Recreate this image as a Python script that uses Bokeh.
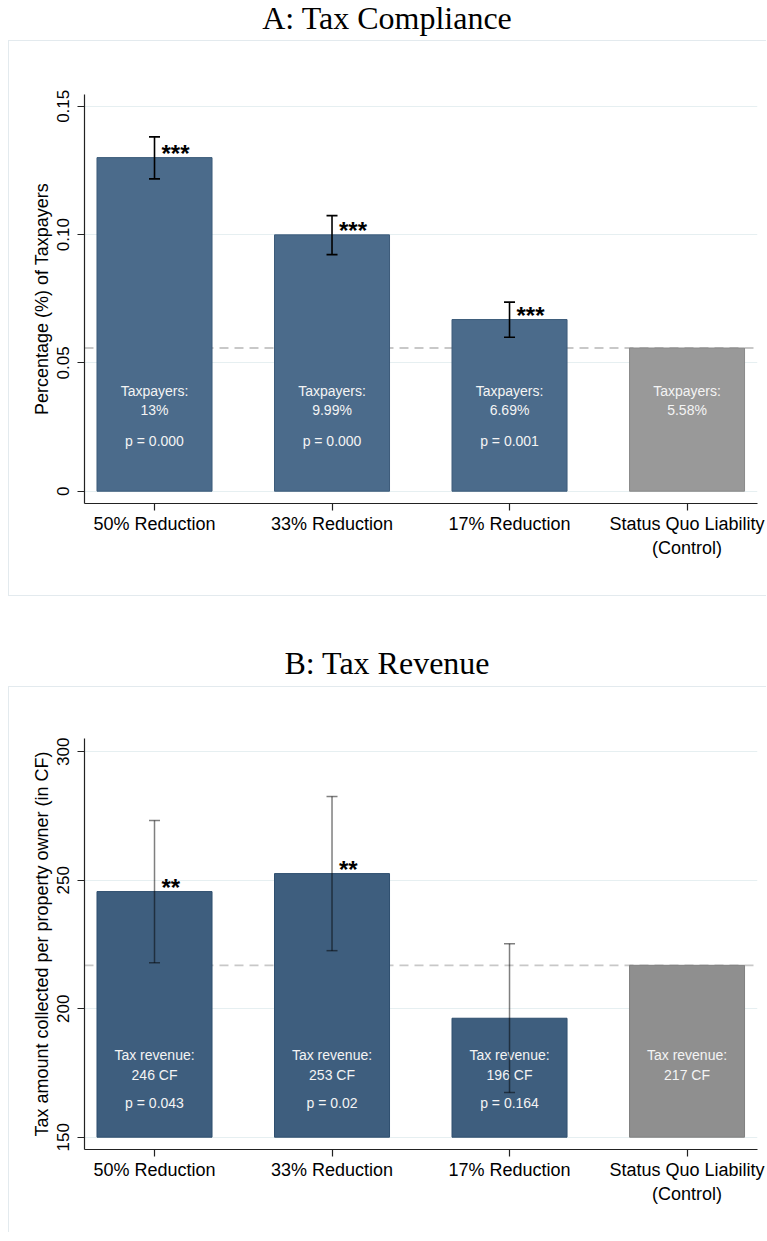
from bokeh.plotting import figure
from bokeh.models import (Range1d, FixedTicker, Span, Whisker, TeeHead, ColumnDataSource, Div)
from bokeh.layouts import column
from bokeh.core.properties import value
from bokeh.embed import file_html
from bokeh.resources import INLINE

# ---------------- data ----------------
categories = ["50% Reduction", "33% Reduction", "17% Reduction", "Status Quo Liability\n(Control)"]
cat_pos = [0, 1, 2, 3]

compliance = [0.1300, 0.0999, 0.0669, 0.0558]
comp_lo = [0.1217, 0.0922, 0.0600]
comp_hi = [0.1381, 0.1074, 0.0737]
comp_stars = ["***", "***", "***", ""]
comp_value_lbl = ["13%", "9.99%", "6.69%", "5.58%"]
comp_p_lbl = ["p = 0.000", "p = 0.000", "p = 0.001", ""]

revenue = [245.6, 252.6, 196.3, 216.9]
rev_lo = [217.9, 222.6, 167.4]
rev_hi = [273.3, 282.6, 225.3]
rev_stars = ["**", "**", "", ""]
rev_value_lbl = ["246 CF", "253 CF", "196 CF", "217 CF"]
rev_p_lbl = ["p = 0.043", "p = 0.02", "p = 0.164", ""]

yticks_a = [0, 0.05, 0.10, 0.15]
ytick_lbl_a = ["0", "0.05", "0.10", "0.15"]
yticks_b = [150, 200, 250, 300]
ytick_lbl_b = ["150", "200", "250", "300"]

SANS = "Liberation Sans"
SERIF = "Liberation Serif"
GRID = "#e6eff1"
BOX = "1px solid #e3eaee"


def make_panel(vals, lo, hi, stars, val_lbl, p_lbl, head, ylabel, yr, yticks, ytick_lbl,
               base, blue, blue_line, gray, gray_line, err_color, err_alpha, err_width,
               text_y, height, min_top, min_bottom, border_bottom):
    p = figure(width=758, height=height, output_backend="svg", toolbar_location=None,
               x_range=Range1d(-0.3944, 3.397), y_range=Range1d(*yr),
               min_border_left=75, min_border_right=10, min_border_top=min_top,
               min_border_bottom=min_bottom)
    p.styles = {"border-top": BOX, "border-left": BOX,
                "border-bottom": BOX if border_bottom else "none"}
    p.outline_line_color = None
    p.background_fill_color = "white"
    p.border_fill_color = "white"

    # grid
    p.xgrid.grid_line_color = None
    p.ygrid.grid_line_color = GRID
    p.ygrid.grid_line_width = 1.2
    p.ygrid.ticker = FixedTicker(ticks=yticks)

    # axes
    for ax in (p.xaxis[0], p.yaxis[0]):
        ax.axis_line_color = "#222222"
        ax.axis_line_width = 1.2
        ax.major_tick_line_color = "#222222"
        ax.major_tick_line_width = 1.2
        ax.major_tick_out = 7
        ax.major_tick_in = 0
        ax.minor_tick_line_color = None
        ax.major_label_text_color = "black"
        ax.major_label_text_font = SANS
    p.xaxis.ticker = FixedTicker(ticks=cat_pos)
    p.xaxis.major_label_overrides = {c: l for c, l in zip(cat_pos, categories)}
    p.xaxis.major_label_text_font_size = "18px"
    p.xaxis.major_label_standoff = 3
    p.yaxis.ticker = FixedTicker(ticks=yticks)
    p.yaxis.major_label_overrides = {t: l for t, l in zip(yticks, ytick_lbl)}
    p.yaxis.major_label_text_font_size = "17px"
    p.yaxis.major_label_orientation = "vertical"
    p.yaxis.major_label_standoff = 8
    p.yaxis.axis_label = ylabel
    p.yaxis.axis_label_text_font = SANS
    p.yaxis.axis_label_text_font_size = "18px"
    p.yaxis.axis_label_text_font_style = "normal"
    p.yaxis.axis_label_text_color = "black"
    p.yaxis.axis_label_standoff = 3

    # reference line at control level (behind the bars)
    p.add_layout(Span(location=vals[3], dimension="width", line_color="#c8c8c8",
                      line_width=1.8, line_dash="9 6", level="underlay"))

    # bars
    colors = [blue, blue, blue, gray]
    lcolors = [blue_line, blue_line, blue_line, gray_line]
    src = ColumnDataSource(dict(x=cat_pos, top=vals, c=colors, lc=lcolors,
                                stars=stars, vl=val_lbl, pl=p_lbl,
                                head=[head] * 4))
    p.vbar(x="x", top="top", bottom=base, width=0.648, fill_color="c",
           line_color="lc", line_width=1, source=src)

    # in-bar labels
    for yy, col in zip(text_y, ("head", "vl", "pl")):
        p.text(x="x", y=yy, text=col, source=src, text_align="center",
               text_baseline="middle", text_font=value(SANS), text_font_size="14px",
               text_color="#f4f4f4")

    # error bars (drawn over the bars)
    esrc = ColumnDataSource(dict(x=cat_pos[:3], lo=lo, hi=hi))
    w = Whisker(base="x", lower="lo", upper="hi", source=esrc, level="overlay",
                line_color=err_color, line_alpha=err_alpha, line_width=err_width,
                lower_head=TeeHead(size=11, line_color=err_color, line_alpha=err_alpha, line_width=err_width),
                upper_head=TeeHead(size=11, line_color=err_color, line_alpha=err_alpha, line_width=err_width))
    p.add_layout(w)

    # stars
    p.text(x="x", y="top", text="stars", source=src, text_align="left",
           text_baseline="alphabetic", x_offset=7, y_offset=-4,
           text_font=value(SANS), text_font_size="24px", text_font_style="bold",
           text_color="black")
    return p


def title_div(text, height, pad_top):
    return Div(text=f'<div style="width:742px; font-family:{SERIF}; font-size:32px; line-height:20px; '
                    f'text-align:center; padding-left:16px; padding-top:{pad_top}px; color:black;">{text}</div>',
               width=758, height=height, margin=(0, 0, 0, 0))


pa = make_panel(compliance, comp_lo, comp_hi, comp_stars, comp_value_lbl, comp_p_lbl,
                "Taxpayers:", "Percentage (%) of Taxpayers", (-0.00479, 0.15460),
                yticks_a, ytick_lbl_a, 0, "#4b6b8b", "#3c5b7a", "#999999", "#8a8a8a",
                "black", 1.0, 1.6, (0.0392, 0.0318, 0.0194),
                556, 53, 94, True)
pb = make_panel(revenue, rev_lo, rev_hi, rev_stars, rev_value_lbl, rev_p_lbl,
                "Tax revenue:", "Tax amount collected per property owner (in CF)", (145.21, 305.18),
                yticks_b, ytick_lbl_b, 150, "#3e5e7e", "#2f4f6f", "#8f8f8f", "#808080",
                "black", 0.5, 1.5, (181.9, 174.4, 163.3),
                546, 51, 84, False)
pa.margin = (0, 0, 0, 0)
pb.margin = (0, 0, 0, 0)

layout = column(title_div("A: Tax Compliance", 32, 0), pa,
                title_div("B: Tax Revenue", 90, 57), pb, spacing=0,
                margin=(8, 0, 0, 8))

open("out.html", "w").write(file_html(layout, INLINE))
